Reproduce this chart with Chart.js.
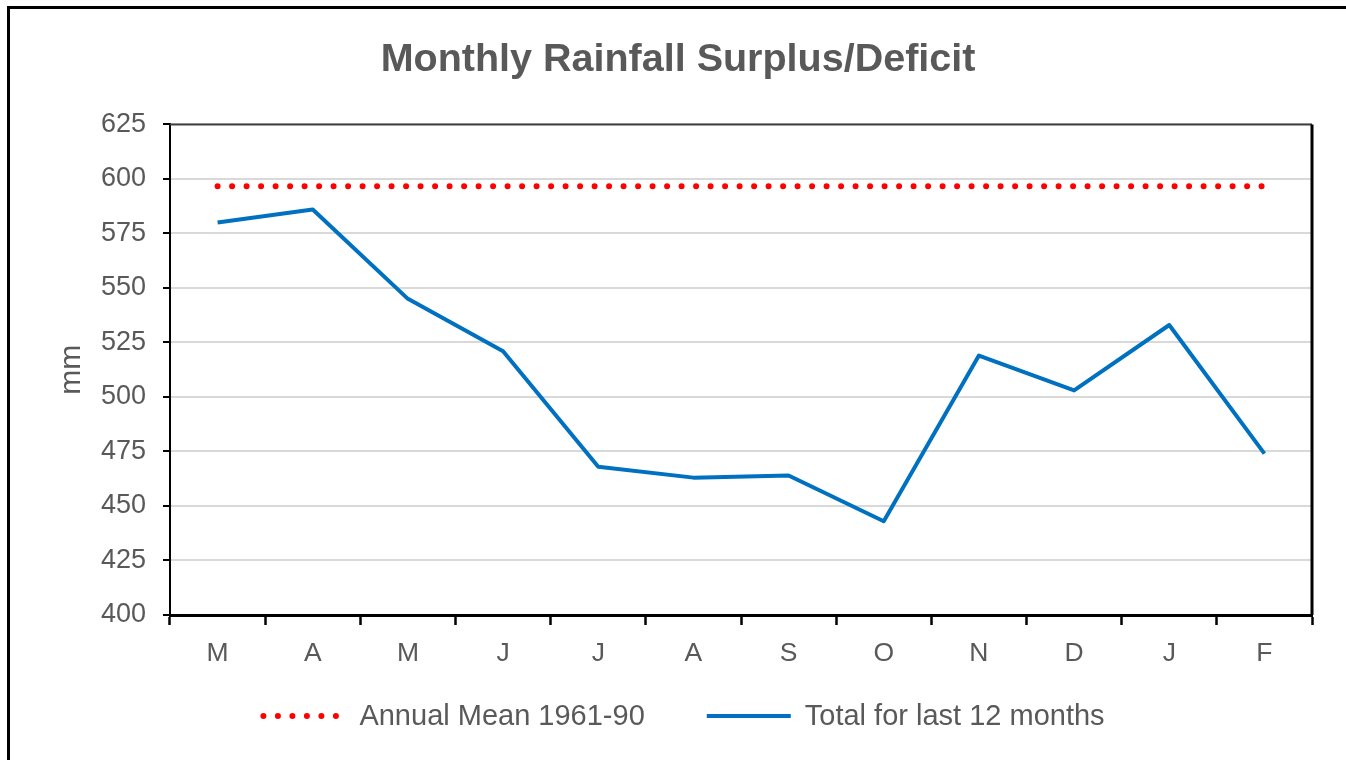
<!DOCTYPE html>
<html>
<head>
<meta charset="utf-8">
<script src="https://cdn.jsdelivr.net/npm/chart.js@4"></script>
<style>
  html, body { margin: 0; padding: 0; background: #fff; overflow: hidden; }
  #wrap { position: relative; width: 1346px; height: 760px; }
  #frame { position: absolute; left: 7px; top: 6px; width: 2000px; height: 2000px;
           border-top: 3px solid #000; border-left: 3px solid #000; pointer-events: none; }
</style>
</head>
<body>
<div id="wrap">
  <canvas id="c" width="1346" height="760"></canvas>
  <div id="frame"></div>
</div>
<script>
const months = ['M', 'A', 'M', 'J', 'J', 'A', 'S', 'O', 'N', 'D', 'J', 'F'];
const total12 = [580, 586, 545, 521, 468, 463, 464, 443, 519, 503, 533, 474];
const annualMean = [596.6, 596.6, 596.6, 596.6, 596.6, 596.6, 596.6, 596.6, 596.6, 596.6, 596.6, 596.6];
const seriesNames = ['Annual Mean 1961-90', 'Total for last 12 months'];
const yMin = 400, yMax = 625, yStep = 25;

const TXT = '#595959';
const FONT = "'Liberation Sans', Arial, sans-serif";

const frameBox = {
  id: 'frameBox',
  beforeDatasetsDraw(chart) {
    const { ctx, chartArea: a } = chart;
    ctx.save();
    ctx.strokeStyle = '#404040';
    ctx.lineWidth = 2;
    ctx.beginPath(); ctx.moveTo(a.left, a.top); ctx.lineTo(a.right, a.top); ctx.stroke();
    ctx.strokeStyle = '#000';
    ctx.lineWidth = 3;
    ctx.beginPath(); ctx.moveTo(a.right, a.top); ctx.lineTo(a.right, a.bottom); ctx.stroke();
    ctx.restore();
  }
};

// Legend drawn from the chart's own datasets (line-style symbols with dash patterns)
const lineLegend = {
  id: 'lineLegend',
  afterDraw(chart, args, opts) {
    const { ctx } = chart;
    const sym = opts.symbolWidth, gap = opts.textGap, between = opts.itemGap;
    ctx.save();
    ctx.font = opts.fontSize + 'px ' + FONT;
    const items = chart.data.datasets.map(ds => ({
      ds, w: sym + gap + ctx.measureText(ds.label).width
    }));
    const total = items.reduce((s, it) => s + it.w, 0) + between * (items.length - 1);
    let x = opts.centerX - total / 2;
    const y = opts.y;
    items.forEach(({ ds, w }) => {
      ctx.beginPath();
      ctx.strokeStyle = ds.borderColor;
      ctx.lineWidth = ds.borderWidth;
      ctx.lineCap = ds.borderCapStyle || 'butt';
      const dash = ds.borderDash || [];
      ctx.setLineDash(dash);
      if (dash.length) {
        ctx.moveTo(x + 2, y); ctx.lineTo(x + sym, y);
      } else {
        ctx.moveTo(x, y); ctx.lineTo(x + sym, y);
      }
      ctx.stroke();
      ctx.setLineDash([]);
      ctx.fillStyle = TXT;
      ctx.textBaseline = 'middle';
      ctx.textAlign = 'left';
      ctx.fillText(ds.label, x + sym + gap, y + 1);
      x += w + between;
    });
    ctx.restore();
  }
};

new Chart(document.getElementById('c'), {
  type: 'line',
  data: {
    labels: months,
    datasets: [
      {
        label: seriesNames[0],
        data: annualMean,
        borderColor: '#ff0000',
        backgroundColor: '#ff0000',
        borderWidth: 6,
        borderDash: [0, 14.5],
        borderCapStyle: 'round',
        pointRadius: 0,
        tension: 0,
        fill: false
      },
      {
        label: seriesNames[1],
        data: total12,
        borderColor: '#0070c0',
        backgroundColor: '#0070c0',
        borderWidth: 4,
        borderJoinStyle: 'round',
        pointRadius: 0,
        tension: 0,
        fill: false
      }
    ]
  },
  options: {
    responsive: false,
    animation: false,
    layout: { padding: { top: 10, left: 44, right: 34, bottom: 92 } },
    plugins: {
      title: {
        display: true,
        text: 'Monthly Rainfall Surplus/Deficit',
        color: TXT,
        font: { family: FONT, size: 39.5, weight: 'bold' },
        padding: { top: 26, bottom: 41 }
      },
      legend: { display: false },
      lineLegend: { symbolWidth: 84, textGap: 14, itemGap: 62, fontSize: 29, centerX: 683, y: 716 },
      tooltip: { enabled: false }
    },
    scales: {
      x: {
        offset: true,
        grid: {
          display: true,
          offset: true,
          drawOnChartArea: false,
          drawTicks: true,
          tickLength: 10,
          tickColor: '#000',
          tickWidth: 2.5
        },
        border: { display: true, color: '#000', width: 3 },
        ticks: {
          color: TXT,
          font: { family: FONT, size: 26.5 },
          padding: 13,
          maxRotation: 0,
          autoSkip: false
        },
        afterFit(scale) { scale.height = 53; }
      },
      y: {
        min: yMin,
        max: yMax,
        grid: {
          color: '#d9d9d9',
          lineWidth: 2,
          tickColor: '#000',
          tickLength: 7,
          tickWidth: 2
        },
        border: { display: true, color: '#000', width: 2 },
        ticks: {
          stepSize: yStep,
          color: TXT,
          font: { family: FONT, size: 27 },
          padding: 17
        },
        title: {
          display: true,
          text: 'mm',
          color: TXT,
          font: { family: FONT, size: 30 },
          padding: { top: 10, bottom: 0 }
        },
        afterFit(scale) { scale.width = 126; }
      }
    }
  },
  plugins: [frameBox, lineLegend]
});
</script>
</body>
</html>
